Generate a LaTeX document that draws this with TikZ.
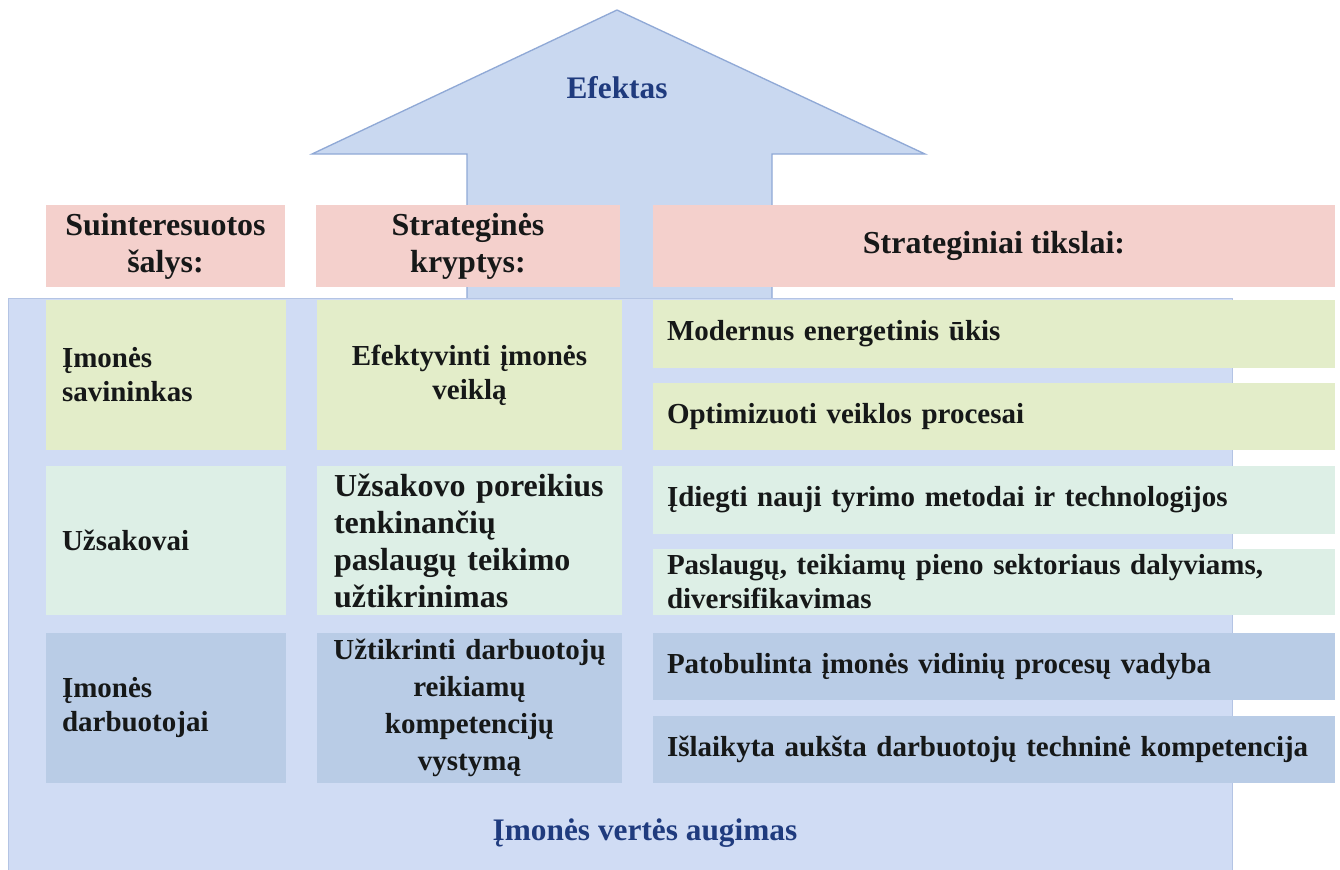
\documentclass[tikz,border=0pt]{standalone}
\usepackage{fontspec}
\setmainfont{Liberation Serif}
\definecolor{bgblue}{HTML}{D0DCF4}
\definecolor{bgedge}{HTML}{B4C4E4}
\definecolor{arrowfill}{HTML}{C9D8F0}
\definecolor{arrowedge}{HTML}{90A9D6}
\definecolor{hdrpink}{HTML}{F4D0CC}
\definecolor{rowgreen}{HTML}{E3EDC9}
\definecolor{rowteal}{HTML}{DDEFE6}
\definecolor{rowblue}{HTML}{B9CCE6}
\definecolor{txtdark}{HTML}{161818}
\definecolor{titleblue}{HTML}{1F3B7E}
\begin{document}
\begin{tikzpicture}[x=0.75pt,y=-0.75pt,
  cellbox/.style={rectangle, inner sep=0pt, text=txtdark},
  hdrbox/.style={cellbox, fill=hdrpink, minimum height=61.5pt, align=center,
    font=\fontsize{24}{27.75}\selectfont\bfseries},
  bodyfont/.style={font=\fontsize{21.75}{25.5}\selectfont\bfseries},
  leftbox/.style={cellbox, bodyfont, minimum width=180pt, minimum height=112.5pt, text width=156pt, align=left},
  midbox/.style={cellbox, bodyfont, minimum width=228.75pt, minimum height=112.5pt, text width=203.25pt, align=center},
  rightbox/.style={cellbox, bodyfont, minimum width=511.5pt, text width=490.5pt, align=left},
  titletext/.style={inner sep=0pt, text=titleblue, font=\fontsize{23.5}{27}\selectfont\bfseries}
]
\useasboundingbox (0,0) rectangle (1340,869);
\fill[white] (0,0) rectangle (1340,869);
% arrow
\draw[fill=arrowfill, draw=arrowedge, line width=1pt, line join=miter]
  (467,310) -- (467,154) -- (312,154) -- (617,10) -- (925,154) -- (772,154) -- (772,310);
% background
\draw[fill=bgblue, draw=bgedge, line width=0.6pt] (8,298) rectangle (1232,880);
% headers
\node[hdrbox, minimum width=179.25pt] (h1) at (165.5,246) {Suinteresuotos\\šalys:};
\node[hdrbox, minimum width=228pt] (h2) at (468,246) {Strateginės\\kryptys:};
\node[hdrbox, minimum width=511.5pt] (h3) at (994,246) {Strateginiai tikslai:};
% row 1
\node[leftbox, fill=rowgreen] (l1) at (166,375) {Įmonės\\savininkas};
\node[midbox, fill=rowgreen] (m1) at (469.5,375) {Efektyvinti įmonės\\veiklą};
\node[rightbox, fill=rowgreen, minimum height=51pt] (r1) at (994,334) {Modernus energetinis ūkis};
\node[rightbox, fill=rowgreen, minimum height=50.25pt] (r2) at (994,416.5) {Optimizuoti veiklos procesai};
% row 2
\node[leftbox, fill=rowteal, minimum height=111.75pt] (l2) at (166,540.5) {Užsakovai};
\node[midbox, fill=rowteal, minimum height=111.75pt, align=left,
  font=\fontsize{24}{27.75}\selectfont\bfseries] (m2) at (469.5,540.5)
  {Užsakovo poreikius\\tenkinančių\\paslaugų teikimo\\užtikrinimas};
\node[rightbox, fill=rowteal, minimum height=51pt] (r3) at (994,500) {Įdiegti nauji tyrimo metodai ir technologijos};
\node[rightbox, fill=rowteal, minimum height=49.5pt] (r4) at (994,582) {Paslaugų, teikiamų pieno sektoriaus dalyviams,\\diversifikavimas};
% row 3
\node[leftbox, fill=rowblue] (l3) at (166,708) {Įmonės\\darbuotojai};
\node[midbox, fill=rowblue, text width=218pt, font=\fontsize{21.75}{27.75}\selectfont\bfseries] (m3) at (469.5,708)
  {Užtikrinti darbuotojų\\reikiamų\\kompetencijų\\vystymą};
\node[rightbox, fill=rowblue, minimum height=50.25pt] (r5) at (994,666.5) {Patobulinta įmonės vidinių procesų vadyba};
\node[rightbox, fill=rowblue, minimum height=50.25pt] (r6) at (994,749.5) {Išlaikyta aukšta darbuotojų techninė kompetencija};
% titles
\node[titletext] (efektas) at (617,88) {Efektas};
\node[titletext] (augimas) at (645,833) {Įmonės vertės augimas};
\end{tikzpicture}
\end{document}
